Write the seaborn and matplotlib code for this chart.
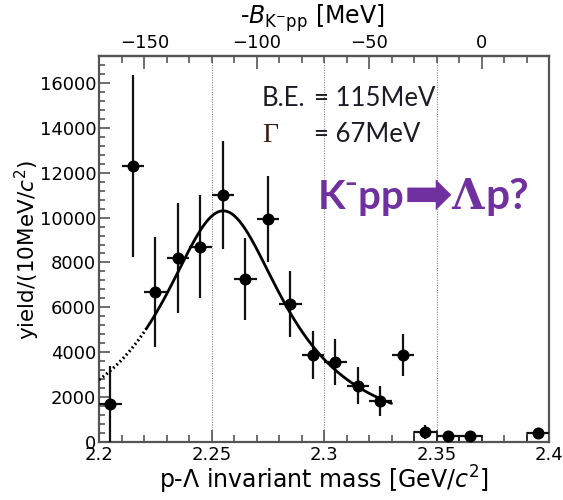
import numpy as np
import pandas as pd
import matplotlib
matplotlib.use("Agg")
import matplotlib.pyplot as plt
import seaborn as sns
from matplotlib.ticker import MultipleLocator, FixedLocator

# p-Lambda invariant mass spectrum (10 MeV bins)
mass = [2.205, 2.215, 2.225, 2.235, 2.245, 2.255, 2.265, 2.275, 2.285,
        2.295, 2.305, 2.315, 2.325, 2.335, 2.345, 2.355, 2.365, 2.395]
counts = [1700, 12300, 6700, 8200, 8700, 11000, 7250, 9950, 6150,
          3880, 3580, 2500, 1830, 3870, 450, 280, 280, 400]
count_err = [1700, 4050, 2450, 2450, 2300, 2400, 1820, 1920, 1480,
             1080, 1020, 820, 670, 950, 300, 150, 150, 150]
bin_width = 0.01
low_stat_from = 2.34          # bins above this are drawn as open boxes

# Breit-Wigner fit parameters
binding_energy = 115          # MeV
width_gamma = 67              # MeV
peak_height = 10300
threshold = 2.3702            # M(K-) + 2 M(p) in GeV
fit_range = (2.221, 2.33)

sns.set_theme(style="ticks")
plt.rcParams["font.family"] = ["DejaVu Sans"]
plt.rcParams["mathtext.fontset"] = "dejavusans"
plt.rcParams["text.color"] = "black"
plt.rcParams["axes.labelcolor"] = "black"
plt.rcParams["xtick.labelcolor"] = "black"
plt.rcParams["ytick.labelcolor"] = "black"

df = pd.DataFrame({"mass": mass, "counts": counts, "err": count_err})

fig = plt.figure(figsize=(5.63, 5.0), dpi=100)
ax = fig.add_axes([99 / 563, 1 - 442 / 500, 450 / 563, 386 / 500])


def breit_wigner(m):
    m0 = threshold - binding_energy / 1000.0
    g = width_gamma / 1000.0
    return peak_height / (1.0 + (2.0 * (m - m0) / g) ** 2)


# vertical reference lines
for xv in [2.25, 2.30, 2.35]:
    ax.axvline(xv, color="#888888", lw=0.8, ls=(0, (1, 1.2)), zorder=0)

# low-statistics bins as open boxes
low = df[df["mass"] > low_stat_from]
ax.bar(low["mass"], low["counts"], width=bin_width, fill=False,
       edgecolor="#222222", lw=1.2, zorder=2)

# error bars
ax.errorbar(df["mass"], df["counts"], yerr=df["err"], xerr=bin_width / 2,
            fmt="none", ecolor="#111111", elinewidth=1.6, capsize=0, zorder=3)

# markers
sns.scatterplot(data=df, x="mass", y="counts", ax=ax, color="black",
                s=75, edgecolor="black", linewidth=0, zorder=4, legend=False)

# fit curve: solid inside the fit range, dotted below it
m_fit = np.linspace(fit_range[0], fit_range[1], 300)
m_ext = np.linspace(2.2, fit_range[0], 60)
fit_df = pd.DataFrame({"mass": m_fit, "bw": breit_wigner(m_fit)})
ext_df = pd.DataFrame({"mass": m_ext, "bw": breit_wigner(m_ext)})
sns.lineplot(data=fit_df, x="mass", y="bw", ax=ax, color="black", lw=2.0,
             zorder=5)
sns.lineplot(data=ext_df, x="mass", y="bw", ax=ax, color="black", lw=2.2,
             ls=(0, (0.6, 0.9)), zorder=5)

ax.set_xlim(2.2, 2.4)
ax.set_ylim(0, 17200)
ax.xaxis.set_major_locator(FixedLocator([2.2, 2.25, 2.3, 2.35, 2.4]))
ax.set_xticklabels(["2.2", "2.25", "2.3", "2.35", "2.4"])
ax.xaxis.set_minor_locator(MultipleLocator(0.01))
ax.yaxis.set_major_locator(MultipleLocator(2000))
ax.yaxis.set_minor_locator(MultipleLocator(400))

spine_col = "#555555"
for s in ax.spines.values():
    s.set_color(spine_col)
    s.set_linewidth(1.6)
ax.tick_params(which="both", direction="in", color=spine_col,
               labelsize=13, labelcolor="black", top=False, right=False,
               width=1.2)
ax.tick_params(axis="y", which="major", length=8, pad=2)
ax.tick_params(axis="y", which="minor", length=4)
ax.tick_params(axis="x", which="major", length=9, pad=3)
ax.tick_params(axis="x", which="minor", length=5)

ax.set_xlabel(r"p-$\Lambda$ invariant mass [GeV/$c^{2}$]", fontsize=17)
ax.xaxis.set_label_coords(225 / 450, (442 - 480) / 386)
ax.xaxis.label.set_va("center")
ax.set_ylabel(r"yield/(10MeV/$c^{2}$)", fontsize=15.5)
ax.yaxis.set_label_coords((27 - 99) / 450, (442 - 250) / 386)
ax.yaxis.label.set_va("center")

# binding-energy axis on top
top = ax.secondary_xaxis("top",
                         functions=(lambda m: (m - threshold) * 1000.0,
                                    lambda b: b / 1000.0 + threshold))
top.xaxis.set_major_locator(FixedLocator([-150, -100, -50, 0]))
top.xaxis.set_minor_locator(MultipleLocator(10))
top.spines["top"].set_color(spine_col)
top.spines["top"].set_linewidth(1.6)
top.tick_params(which="both", direction="in", color=spine_col,
                labelsize=13, labelcolor="black", width=1.2, pad=3)
top.tick_params(which="major", length=9)
top.tick_params(which="minor", length=5)
fig.text(312 / 563, 1 - 18 / 500, r"-$B_{\mathrm{K^{-}pp}}$ [MeV]",
         fontsize=17, ha="center", va="center")

# fit result annotations
txt_col = "#1c1c28"
fig.text(262 / 563, 1 - 98 / 500, "B.E.", fontsize=18.5, family="Lato",
         color=txt_col, ha="left", va="center")
fig.text(314 / 563, 1 - 98 / 500, "= 115MeV", fontsize=18.5, family="Lato",
         color=txt_col, ha="left", va="center")
fig.text(262 / 563, 1 - 135 / 500, "Γ", fontsize=20,
         family="Liberation Serif", color="#3a1c10", ha="left", va="center")
fig.text(314 / 563, 1 - 135 / 500, "= 67MeV", fontsize=18.5, family="Lato",
         color=txt_col, ha="left", va="center")

# reaction label in pieces
purple = "#7030A0"
fig.text(318 / 563, 1 - 197 / 500, "K⁻pp", fontsize=29,
         family=["Lato", "DejaVu Sans"], weight="bold", color=purple,
         ha="left", va="center")
fig.text(404 / 563, 1 - 197 / 500, "➡", fontsize=42,
         family="DejaVu Sans", weight="bold", color=purple,
         ha="left", va="center")
fig.text(451 / 563, 1 - 197 / 500, "Λ", fontsize=30,
         family="DejaVu Serif", weight="bold", color=purple,
         ha="left", va="center")
fig.text(485 / 563, 1 - 197 / 500, "p?", fontsize=30.5,
         family="Lato", weight="bold", color=purple,
         ha="left", va="center")

fig.savefig("out.png", dpi=100)
